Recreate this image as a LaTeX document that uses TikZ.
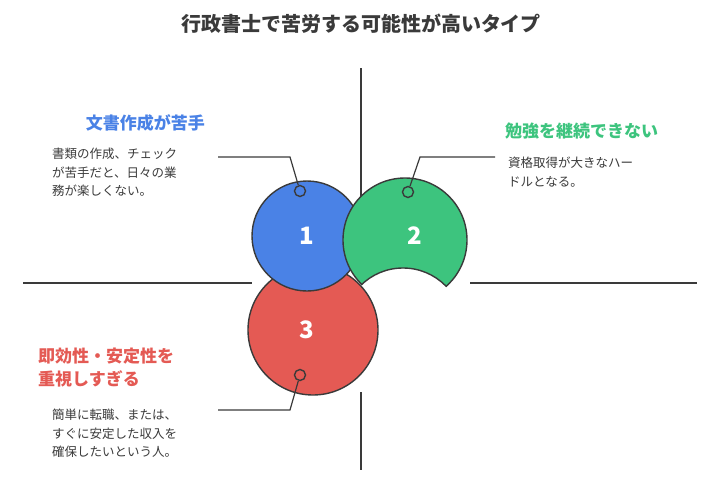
\documentclass[tikz,border=0pt]{standalone}
\usepackage{fontspec}
\setmainfont{Noto Sans CJK JP}
\usetikzlibrary{positioning}
\definecolor{cBlue}{HTML}{4A82E6}
\definecolor{cGreen}{HTML}{3DC47E}
\definecolor{cRed}{HTML}{E45A54}
\definecolor{cInk}{HTML}{3A3A3A}
\tikzset{
  ring/.style={draw=cInk, line width=1.4pt},
  num/.style={text=white, font=\fontsize{24}{24}\selectfont\bfseries},
  dot/.style={circle, draw=cInk, line width=1.4pt, minimum size=11pt, inner sep=0pt},
  head/.style={font=\fontsize{17}{23}\selectfont\bfseries, align=left, inner sep=0pt},
  body/.style={font=\fontsize{12.5}{18.5}\selectfont, text=cInk, align=left, inner sep=0pt},
  rule/.style={draw=cInk, line width=1.2pt}
}
\begin{document}
\begin{tikzpicture}[x=1pt, y=-1pt]
\useasboundingbox (0,0) rectangle (721,482);
% axes
\draw[rule] (361,68) -- (361,205);
\draw[rule] (361,392) -- (361,470);
\draw[rule] (23,283) -- (252,283);
\draw[rule] (470,283) -- (697,283);
% circles
\fill[cRed] (313,330) circle (65);
\draw[ring] (313,330) circle (65);
\fill[cBlue] (307,236) circle (55);
\draw[ring] (307,236) circle (55);
\begin{scope}[even odd rule]
  \clip (0,0) rectangle (721,482) (403,328) circle (60);
  \fill[cGreen] (405,240) circle (62);
  \draw[ring] (405,240) circle (62);
\end{scope}
\begin{scope}
  \clip (405,240) circle (62.7);
  \draw[ring] (403,328) circle (60);
\end{scope}
\node[num] (n1) at (307,236) {1};
\node[num] (n2) at (415,236) {2};
\node[num] (n3) at (307,330) {3};
% title
\node[font=\fontsize{20}{24}\selectfont\bfseries, text=cInk] (title) at (361,24) {行政書士で苦労する可能性が高いタイプ};
% item 1
\node[head, text=cBlue, anchor=east] (h1) at (205,123) {文書作成が苦手};
\node[body, anchor=north west] (b1) at (52,148) {書類の作成、チェック\\が苦手だと、日々の業\\務が楽しくない。};
\node[dot] (d1) at (300,191) {};
\coordinate (k1) at (290,157);
\coordinate (e1) at (218,157);
\draw[rule] (d1) -- (k1) -- (e1);
% item 2
\node[head, text=cGreen, anchor=west] (h2) at (505,131) {勉強を継続できない};
\node[body, anchor=north west] (b2) at (508,157) {資格取得が大きなハー\\ドルとなる。};
\node[dot] (d2) at (408,192) {};
\coordinate (k2) at (420,157);
\coordinate (e2) at (495,157);
\draw[rule] (d2) -- (k2) -- (e2);
% item 3
\node[head, text=cRed, anchor=north west] (h3) at (38,348) {即効性・安定性を\\重視しすぎる};
\node[body, anchor=north west] (b3) at (52,409) {簡単に転職、または、\\すぐに安定した収入を\\確保したいという人。};
\node[dot] (d3) at (300,375) {};
\coordinate (k3) at (290,410);
\coordinate (e3) at (218,410);
\draw[rule] (d3) -- (k3) -- (e3);
\end{tikzpicture}
\end{document}
